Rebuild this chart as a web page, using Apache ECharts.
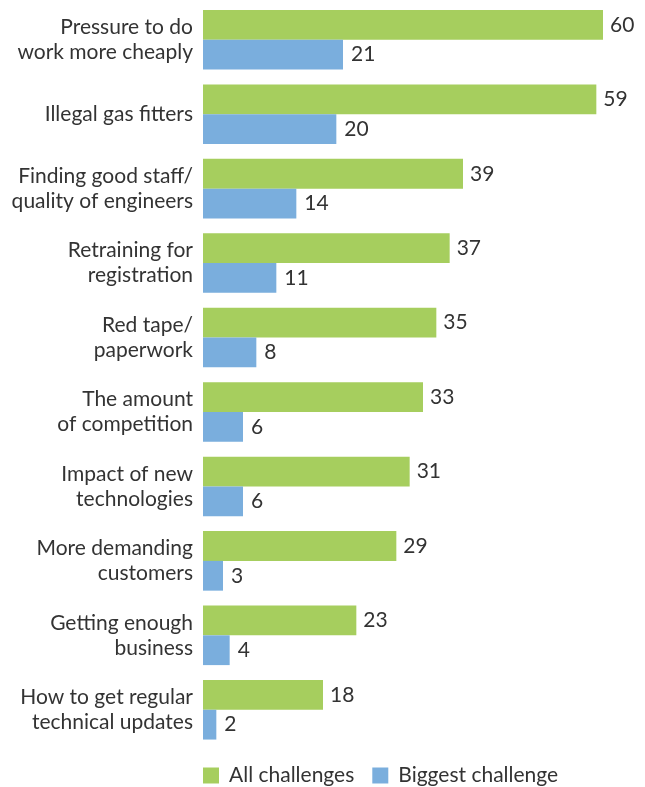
<!DOCTYPE html>
<html><head><meta charset="utf-8">
<script src="https://cdn.jsdelivr.net/npm/echarts@6/dist/echarts.min.js"></script>
<style>html,body{margin:0;padding:0;background:#fff}#c{width:645px;height:787px}</style>
</head><body><div id="c"></div>
<script>
const categories = ["Pressure to do\nwork more cheaply","Illegal gas fitters","Finding good staff/\nquality of engineers","Retraining for\nregistration","Red tape/\npaperwork","The amount\nof competition","Impact of new\ntechnologies","More demanding\ncustomers","Getting enough\nbusiness","How to get regular\ntechnical updates"];
const allChallenges = [60,59,39,37,35,33,31,29,23,18];
const biggestChallenge = [21,20,14,11,8,6,6,3,4,2];
const seriesNames = ["All challenges","Biggest challenge"];
const FONT = "Lato";
const chart = echarts.init(document.getElementById('c'), null, {renderer:'canvas'});
chart.setOption({
  animation:false,
  textStyle:{fontFamily:FONT},
  grid:{left:203,right:42,top:2.5,bottom:40,containLabel:false},
  legend:{bottom:-4,left:198,itemWidth:16,itemHeight:16,itemGap:18,icon:'rect',
    textStyle:{fontSize:21,color:'#333',fontFamily:FONT,padding:[0,0,0,5]},data:seriesNames},
  xAxis:{type:'value',min:0,max:60,show:false},
  yAxis:{type:'category',inverse:true,data:categories,
    axisLine:{show:false},axisTick:{show:false},
    axisLabel:{fontSize:21,color:'#333',margin:10,lineHeight:25,fontFamily:FONT}},
  series:[
    {name:seriesNames[0],type:'bar',data:allChallenges,barGap:'0%',barCategoryGap:'20%',
     itemStyle:{color:'#a6ce5e'},label:{show:true,position:'right',distance:7,fontSize:21,color:'#333',fontFamily:FONT}},
    {name:seriesNames[1],type:'bar',data:biggestChallenge,
     itemStyle:{color:'#7aaedd'},label:{show:true,position:'right',distance:8,fontSize:21,color:'#333',fontFamily:FONT}}
  ]
});
</script></body></html>
